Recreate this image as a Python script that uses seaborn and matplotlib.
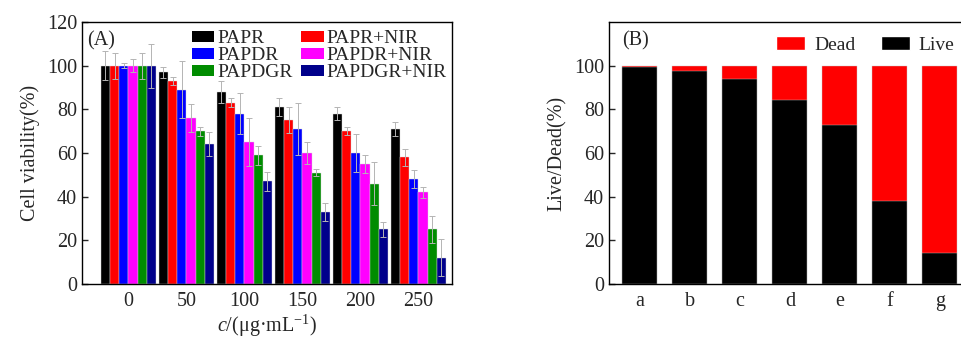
import matplotlib
matplotlib.use('Agg')
from matplotlib import pyplot as plt
from matplotlib.patches import Patch
import seaborn as sns
import pandas as pd

# ---- panel A data: cell viability (%) ----
concs = ['0', '50', '100', '150', '200', '250']
groups = ['PAPR', 'PAPR+NIR', 'PAPDR', 'PAPDR+NIR', 'PAPDGR', 'PAPDGR+NIR']
colors = ['#000000', '#ff0000', '#0000ff', '#ff00ff', '#008c00', '#00008b']

papr = [100, 97, 88, 81, 78, 71]
papr_nir = [100, 93, 83, 75, 70, 58]
papdr = [100, 89, 78, 71, 60, 48]
papdr_nir = [100, 76, 65, 60, 55, 42]
papdgr = [100, 70, 59, 51, 46, 25]
papdgr_nir = [100, 64, 47, 33, 25, 12]

papr_err = [6.5, 2.5, 5, 4, 3, 3]
papr_nir_err = [6, 2, 2, 6, 1.7, 4]
papdr_err = [1, 13, 9.5, 12, 8.6, 4]
papdr_nir_err = [3, 6.5, 11, 5, 4, 2.4]
papdgr_err = [6, 2, 4.4, 1.5, 10, 6]
papdgr_nir_err = [10, 5.6, 4.5, 4, 3.4, 8.5]

# ---- panel B data: live/dead (%) ----
samples = ['a', 'b', 'c', 'd', 'e', 'f', 'g']
live = [99.2, 97.6, 94, 84.5, 73, 37.8, 14.4]
dead = [0.8, 2.4, 6, 15.5, 27, 62.2, 85.6]

vals = [papr, papr_nir, papdr, papdr_nir, papdgr, papdgr_nir]
errs = [papr_err, papr_nir_err, papdr_err, papdr_nir_err, papdgr_err, papdgr_nir_err]

rows = []
for g, v in zip(groups, vals):
    for c, y in zip(concs, v):
        rows.append({'conc': c, 'group': g, 'value': y})
df_a = pd.DataFrame(rows)

df_b = pd.DataFrame({'sample': samples, 'live': live,
                     'total': [l + d for l, d in zip(live, dead)]})

sns.set_style('ticks')
plt.rcParams['font.family'] = ['Liberation Serif', 'DejaVu Serif']
plt.rcParams['mathtext.fontset'] = 'custom'
plt.rcParams['mathtext.rm'] = 'Liberation Serif'
plt.rcParams['mathtext.it'] = 'Liberation Serif:italic'
plt.rcParams['font.size'] = 14

FS = 14.5

fig = plt.figure(figsize=(9.62, 3.40), dpi=100)
ax1 = fig.add_axes([82 / 962, 56 / 340, 370 / 962, 262 / 340])
ax2 = fig.add_axes([609 / 962, 56 / 340, 361 / 962, 262 / 340])

# ---- panel A ----
sns.barplot(data=df_a, x='conc', y='value', hue='group', hue_order=groups,
            palette=colors, width=0.95, errorbar=None, legend=False,
            saturation=1, edgecolor='#d8d8d8', linewidth=0.3, ax=ax1)

for cont, e in zip(ax1.containers, errs):
    xs = [b.get_x() + b.get_width() / 2 for b in cont]
    ys = [b.get_height() for b in cont]
    ax1.errorbar(xs, ys, yerr=e, fmt='none', ecolor='#b4b4b4',
                 elinewidth=0.7, capsize=2, capthick=0.7)

ax1.set_xlim(-0.80, 5.58)
ax1.set_ylim(0, 120)
ax1.set_yticks(range(0, 121, 20))
ax1.set_xlabel('$c$/(μg·mL$^{-1}$)', fontsize=FS, labelpad=1)
ax1.set_ylabel('Cell viability(%)', fontsize=FS, labelpad=5)
ax1.tick_params(axis='y', direction='in', length=4, width=1, labelsize=FS)
ax1.tick_params(axis='x', length=0, labelsize=FS, pad=6)
for s in ax1.spines.values():
    s.set_visible(True)
    s.set_linewidth(1)
    s.set_color('black')
ax1.text(0.015, 0.965, '(A)', transform=ax1.transAxes, fontsize=FS,
         ha='left', va='top')

leg_order = [0, 2, 4, 1, 3, 5]
handles = [Patch(facecolor=colors[i], edgecolor='none') for i in leg_order]
labels = [groups[i] for i in leg_order]
ax1.legend(handles, labels, ncol=2, loc='upper left',
           bbox_to_anchor=(0.26, 1.02), frameon=False, fontsize=14,
           handlelength=1.15, handleheight=0.5, handletextpad=0.15,
           labelspacing=0.0, columnspacing=0.45, borderpad=0.2)

# ---- panel B ----
sns.barplot(data=df_b, x='sample', y='total', color='#ff0000', width=0.7,
            errorbar=None, saturation=1, edgecolor='#c8c8c8', linewidth=0.3,
            ax=ax2)
sns.barplot(data=df_b, x='sample', y='live', color='#000000', width=0.7,
            errorbar=None, saturation=1, edgecolor='#c8c8c8', linewidth=0.3,
            ax=ax2)

ax2.set_xlim(-0.62, 6.6)
ax2.set_ylim(0, 120)
ax2.set_yticks(range(0, 101, 20))
ax2.set_xlabel('')
ax2.set_ylabel('Live/Dead(%)', fontsize=FS, labelpad=5)
ax2.tick_params(axis='y', direction='in', length=4, width=1, labelsize=FS)
ax2.tick_params(axis='x', length=0, labelsize=FS, pad=6)
for s in ax2.spines.values():
    s.set_visible(True)
    s.set_linewidth(1)
    s.set_color('black')
ax2.text(0.035, 0.965, '(B)', transform=ax2.transAxes, fontsize=FS,
         ha='left', va='top')

hb = [Patch(facecolor='#ff0000'), Patch(facecolor='#000000')]
ax2.legend(hb, ['Dead', 'Live'], ncol=2, loc='upper left',
           bbox_to_anchor=(0.42, 1.005), frameon=False, fontsize=14,
           handlelength=1.5, handleheight=0.75, handletextpad=0.45,
           columnspacing=1.3, borderpad=0.3)

fig.savefig('out.png', dpi=100)
